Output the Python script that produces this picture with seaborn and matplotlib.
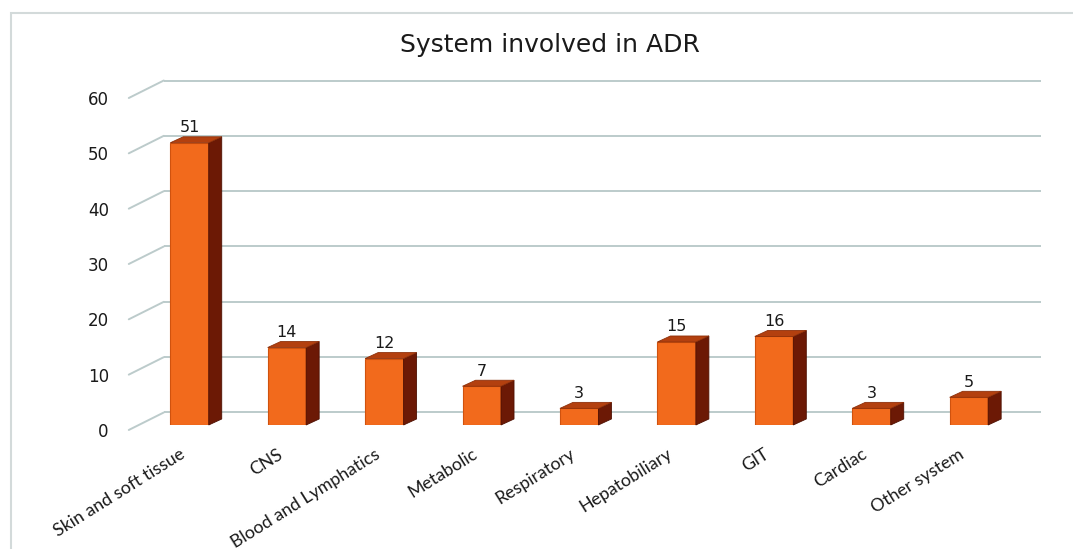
import matplotlib
matplotlib.use("Agg")
import matplotlib.pyplot as plt
import matplotlib.transforms as mtransforms
from matplotlib.patches import Polygon, Rectangle
from matplotlib.lines import Line2D
import pandas as pd
import seaborn as sns

# Data
categories = ["Skin and soft tissue", "CNS", "Blood and Lymphatics", "Metabolic",
              "Respiratory", "Hepatobiliary", "GIT", "Cardiac", "Other system"]
counts = [51, 14, 12, 7, 3, 15, 16, 3, 5]
y_ticks = [0, 10, 20, 30, 40, 50, 60]
title = "System involved in ADR"

# Colours
FRONT = "#F26A1C"
FRONT_EDGE = "#D0520E"
TOP = "#B3400F"
SIDE = "#6C1905"
GRID = "#BCCBCB"
BORDER = "#D3DADA"

sns.set_style("white")
plt.rcParams["font.family"] = ["DejaVu Sans"]

W, H, DPI = 1073, 549, 100
fig = plt.figure(figsize=(W / DPI, H / DPI), dpi=DPI)
fig.patch.set_facecolor("white")
ax = fig.add_axes([0.1312, 0.2259, 0.8172, 0.6047])
ax.set_facecolor("none")

df = pd.DataFrame({"system": categories, "count": counts})
sns.barplot(data=df, x="system", y="count", color=FRONT, saturation=1,
            width=0.395, edgecolor=FRONT_EDGE, linewidth=0.8, ax=ax, zorder=3)

n = len(categories)
ax.set_xlim(-0.5, n - 0.5)
ax.set_ylim(0, 60)
for s in ax.spines.values():
    s.set_visible(False)
ax.set_xlabel("")
ax.set_ylabel("")
ax.set_yticks([])


def px(dx, dy):
    """Offset in screen pixels."""
    return mtransforms.ScaledTranslation(dx / DPI, dy / DPI, fig.dpi_scale_trans)


back = ax.transData + px(23, 12.5)    # back wall plane
front = ax.transData + px(-12, -5)    # front edge of the side wall
to_fig = fig.transFigure.inverted()

# Back-wall gridlines and the receding side-wall segments
for v in y_ticks:
    ax.plot([-0.5, n - 0.5], [v, v], transform=back, color=GRID, lw=1.4,
            clip_on=False, zorder=1, solid_capstyle="butt")
    p1 = to_fig.transform(front.transform((-0.5, v)))
    p2 = to_fig.transform(back.transform((-0.5, v)))
    fig.add_artist(Line2D([p1[0], p2[0]], [p1[1], p2[1]], transform=fig.transFigure,
                          color=GRID, lw=1.4, zorder=0.5))
    ax.text(-0.5, v, f"{v}", transform=front + px(-20, -2), ha="right", va="center",
            fontsize=12, color="#1a1a1a", clip_on=False)

# Depth faces of every bar
DEPTH = (13, 6)
for p in ax.patches:
    x0 = p.get_x()
    x1 = x0 + p.get_width()
    h = p.get_height()
    pts = {}
    for key, (xx, yy) in {"fl": (x0, h), "fr": (x1, h), "br": (x1, 0)}.items():
        pts[key] = ax.transData.transform((xx, yy))
    d = DEPTH
    top = [pts["fl"], pts["fr"], pts["fr"] + d, pts["fl"] + d]
    side = [pts["br"], pts["fr"], pts["fr"] + d, pts["br"] + d]
    fig.add_artist(Polygon(to_fig.transform(side), closed=True, transform=fig.transFigure,
                           facecolor=SIDE, edgecolor="#4E1002", lw=0.6, zorder=2))
    fig.add_artist(Polygon(to_fig.transform(top), closed=True, transform=fig.transFigure,
                           facecolor=TOP, edgecolor="#8E300A", lw=0.6, zorder=2))

# Value labels
for i, v in enumerate(counts):
    ax.text(i, v, f"{v}", transform=ax.transData + px(0, 15), ha="center", va="center",
            fontsize=11.5, color="#1a1a1a", clip_on=False, zorder=5)

# Category labels
ax.set_xticks(range(n))
ax.set_xticklabels(categories, rotation=32, ha="right", va="center",
                   rotation_mode="anchor", fontsize=12.8, family=["Lato", "DejaVu Sans"],
                   color="#1a1a1a")
ax.tick_params(axis="x", length=0, pad=20)
for lab in ax.get_xticklabels():
    lab.set_transform(lab.get_transform() + px(-6, 0))

# Title
fig.text(550 / W, 1 - 45 / H, title, ha="center", va="center", fontsize=18, color="#1a1a1a")

# Chart-area border
fig.add_artist(Rectangle((11 / W, -0.05), 1.2, 1 - 13 / H + 0.05, transform=fig.transFigure,
                         facecolor="none", edgecolor=BORDER, lw=1.5, zorder=0.2))

fig.savefig("out.png", dpi=DPI)
